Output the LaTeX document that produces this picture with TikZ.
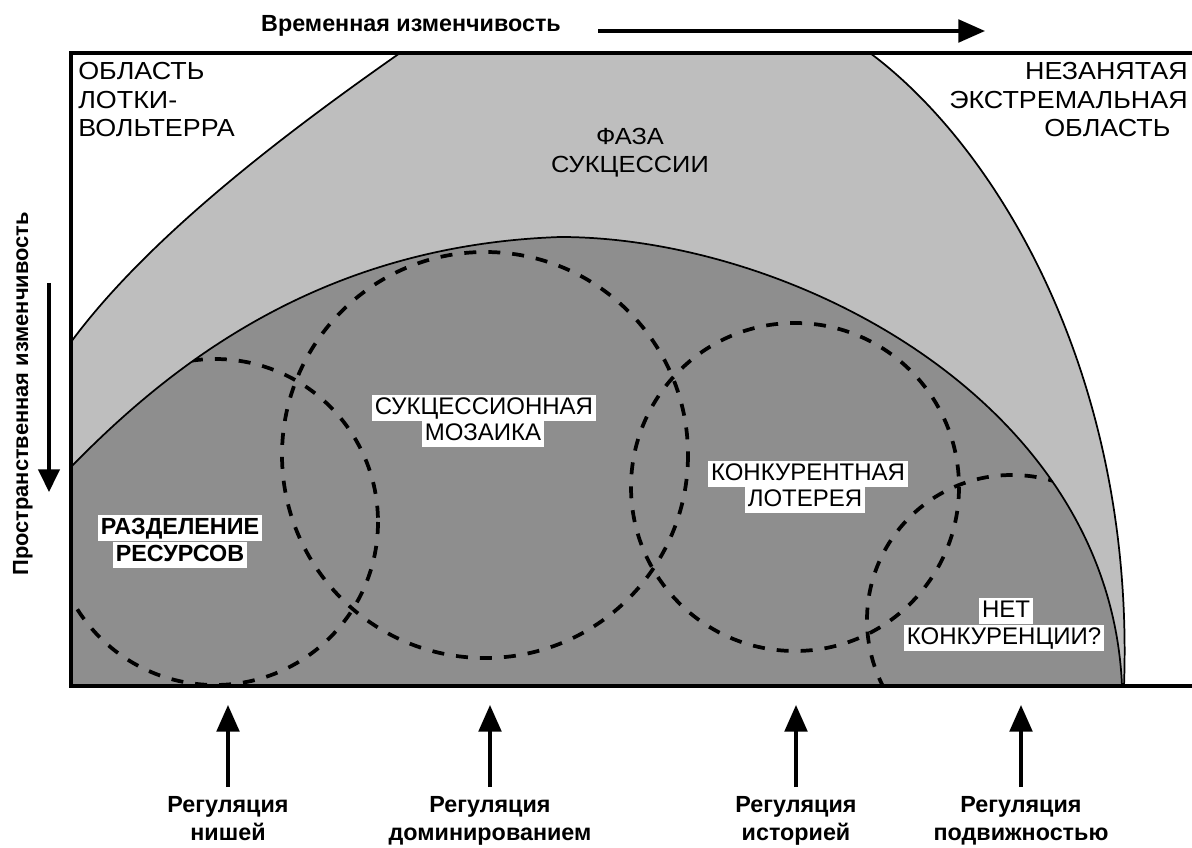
\documentclass[tikz,border=0pt]{standalone}
\usepackage{fontspec}
\setmainfont{Liberation Sans}
\newfontfamily\wfont[FakeStretch=1.09]{Liberation Sans}
\usetikzlibrary{arrows.meta}
\definecolor{lightgr}{RGB}{190,190,190}
\definecolor{darkgr}{RGB}{142,142,142}
\begin{document}
\begin{tikzpicture}[x=0.75pt,y=-0.75pt,
  lbl/.style={font=\wfont\fontsize{18.5}{21.5}\selectfont, inner sep=0pt},
  boxlbl/.style={font=\fontsize{18}{21.5}\selectfont, fill=white, inner xsep=2pt, inner ysep=1.5pt, text height=13.2pt, text depth=3.6pt},
  botlbl/.style={font=\bfseries\fontsize{17.5}{21}\selectfont, inner sep=0pt, align=center, anchor=north},
  curve/.style={line width=1.3pt},
  frameline/.style={line width=2.4pt, line join=miter},
  dcirc/.style={dash pattern=on 9pt off 9pt, line width=2.8pt},
  uparrow/.style={line width=2.5pt, -{Triangle[length=20pt,width=17pt]}},
  axarrow/.style={line width=2.5pt, -{Triangle[length=17pt,width=16pt]}},
]
\useasboundingbox (0,0) rectangle (1192,848);
\fill[white] (0,0) rectangle (1192,848);

% light gray region
\fill[lightgr] (71,686) -- (71,342) .. controls (150,235) and (290,130) .. (400,53) -- (870,53)
  .. controls (1000,150) and (1135,380) .. (1124,686) -- cycle;
\draw[curve] (71,342) .. controls (150,235) and (290,130) .. (400,53);
\draw[curve] (870,53) .. controls (1000,150) and (1135,380) .. (1124,686);

% dark gray region
\fill[darkgr] (71,686) -- (71,467) .. controls (180,355) and (330,245) .. (560,237)
  .. controls (790,237) and (1110,400) .. (1122,686) -- cycle;
\draw[curve] (71,467) .. controls (180,355) and (330,245) .. (560,237)
  .. controls (790,237) and (1110,400) .. (1122,686);

% dashed circles clipped to the dark region
\begin{scope}
  \clip (71,686) -- (71,467) .. controls (180,355) and (330,245) .. (560,237)
    .. controls (790,237) and (1110,400) .. (1122,686) -- cycle;
  \draw[dcirc] (215,522) circle[radius=163];
  \draw[dcirc] (485,455) circle[radius=203];
  \draw[dcirc] (795,487) circle[radius=164];
  \draw[dcirc] (1012,620) circle[radius=145];
\end{scope}

% frame
\draw[frameline] (1192,53) -- (71,53) -- (71,686) -- (1192,686);

% region labels
\node[lbl, anchor=north west, align=left] (lv) at (78,62) {ОБЛАСТЬ\\ЛОТКИ-\\ВОЛЬТЕРРА};
\node[lbl, anchor=north east, align=right] (ne) at (1188,62) {НЕЗАНЯТАЯ\\ЭКСТРЕМАЛЬНАЯ\\ОБЛАСТЬ\hspace*{13pt}};
\node[lbl, font=\wfont\fontsize{17.5}{21}\selectfont, anchor=north, align=center] (fs) at (630,128) {ФАЗА\\СУКЦЕССИИ};

% circle labels
\node[boxlbl, font=\fontsize{17.5}{21}\selectfont\bfseries] (rr1) at (180,528) {РАЗДЕЛЕНИЕ};
\node[boxlbl, font=\fontsize{17.5}{21}\selectfont\bfseries] (rr2) at (180,555) {РЕСУРСОВ};
\node[boxlbl] (sm1) at (484,408) {СУКЦЕССИОННАЯ};
\node[boxlbl] (sm2) at (483,434) {МОЗАИКА};
\node[boxlbl] (kl1) at (808,474) {КОНКУРЕНТНАЯ};
\node[boxlbl] (kl2) at (805,500) {ЛОТЕРЕЯ};
\node[boxlbl] (nk1) at (1006,611) {НЕТ};
\node[boxlbl] (nk2) at (1004,638) {КОНКУРЕНЦИИ?};

% axes
\node[font=\bfseries\fontsize{17.5}{21}\selectfont, inner sep=0pt, anchor=base] (tx) at (411,32) {Временная изменчивость};
\coordinate (tx1) at (598,31);
\coordinate (tx2) at (985,31);
\draw[uparrow] (tx1) -- (tx2);
\node[font=\bfseries\fontsize{16.4}{20}\selectfont, inner sep=0pt, rotate=90, anchor=base] (sx) at (28,394) {Пространственная изменчивость};
\coordinate (sx1) at (49,283);
\coordinate (sx2) at (49,492);
\draw[axarrow] (sx1) -- (sx2);

% bottom arrows and labels
\node[botlbl] (b1) at (228,796) {Регуляция\\нишей};
\node[botlbl] (b2) at (490,796) {Регуляция\\доминированием};
\node[botlbl] (b3) at (796,796) {Регуляция\\историей};
\node[botlbl] (b4) at (1021,796) {Регуляция\\подвижностью};
\coordinate (a1) at (228,705); \coordinate (c1) at (228,787);
\coordinate (a2) at (490,705); \coordinate (c2) at (490,787);
\coordinate (a3) at (796,705); \coordinate (c3) at (796,787);
\coordinate (a4) at (1021,705); \coordinate (c4) at (1021,787);
\draw[uparrow] (c1) -- (a1);
\draw[uparrow] (c2) -- (a2);
\draw[uparrow] (c3) -- (a3);
\draw[uparrow] (c4) -- (a4);
\end{tikzpicture}
\end{document}
